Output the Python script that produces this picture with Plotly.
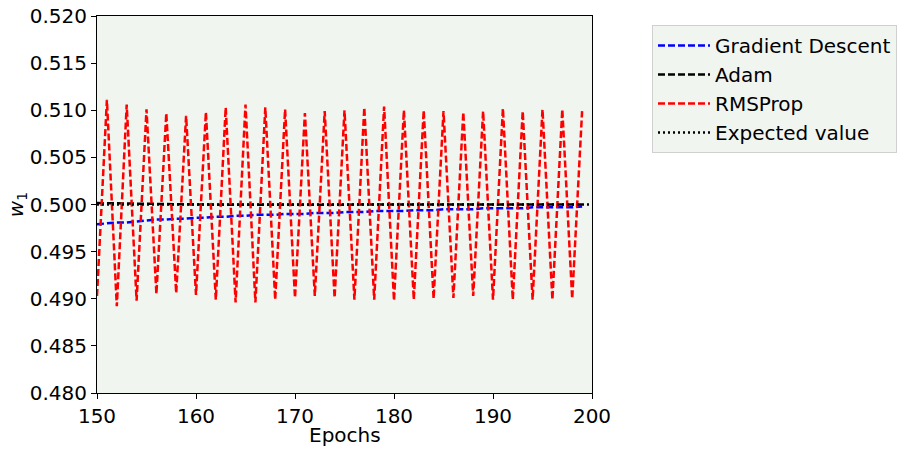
import plotly.graph_objects as go

epochs = list(range(150, 200))

gd = [0.4979, 0.4980, 0.4981, 0.4981, 0.4982, 0.4983, 0.4984, 0.4984, 0.4985, 0.4985,
      0.4986, 0.4986, 0.4987, 0.4987, 0.4988, 0.4988, 0.4989, 0.4989, 0.4989, 0.4990,
      0.4990, 0.4990, 0.4991, 0.4991, 0.4991, 0.4992, 0.4992, 0.4992, 0.4993, 0.4993,
      0.4993, 0.4993, 0.4994, 0.4994, 0.4994, 0.4995, 0.4995, 0.4995, 0.4995, 0.4996,
      0.4996, 0.4996, 0.4996, 0.4996, 0.4997, 0.4997, 0.4997, 0.4997, 0.4997, 0.4998]

adam = [0.50015, 0.50013, 0.50011, 0.50009, 0.50007, 0.50005, 0.50003, 0.50001, 0.50000, 0.49999,
        0.49998, 0.49998, 0.49998, 0.49998, 0.49998, 0.49998, 0.49999, 0.49999, 0.49999, 0.49999,
        0.50000, 0.50000, 0.50000, 0.50000, 0.50000, 0.50000, 0.50000, 0.50000, 0.50000, 0.50000,
        0.50000, 0.50000, 0.50000, 0.50000, 0.50000, 0.50000, 0.50000, 0.50000, 0.50000, 0.50000,
        0.50000, 0.50000, 0.50000, 0.50000, 0.50000, 0.50000, 0.50000, 0.50000, 0.50000, 0.50000]

rmsprop = [0.4903, 0.5111, 0.4892, 0.5106, 0.4898, 0.5101, 0.4905, 0.5097, 0.4906, 0.5094,
           0.4904, 0.5098, 0.4899, 0.5103, 0.4896, 0.5106, 0.4896, 0.5103, 0.4899, 0.5101,
           0.4901, 0.5097, 0.4903, 0.5099, 0.4901, 0.5100, 0.4899, 0.5103, 0.4899, 0.5104,
           0.4898, 0.5100, 0.4899, 0.5100, 0.4900, 0.5099, 0.4901, 0.5098, 0.4903, 0.5099,
           0.4899, 0.5102, 0.4899, 0.5099, 0.4899, 0.5101, 0.4899, 0.5101, 0.4900, 0.5099]

expected_x = [0, 200]
expected_y = [0.5, 0.5]

x_ticks = [150, 160, 170, 180, 190, 200]
y_ticks = [0.480, 0.485, 0.490, 0.495, 0.500, 0.505, 0.510, 0.515, 0.520]

font = "DejaVu Sans"
bg = "#f1f5f0"
fs = 20

fig = go.Figure()
fig.add_trace(go.Scatter(x=epochs, y=gd, mode="lines", name="Gradient Descent",
                         line=dict(color="blue", width=2.5, dash="7px,3px")))
fig.add_trace(go.Scatter(x=epochs, y=adam, mode="lines", name="Adam",
                         line=dict(color="black", width=2.5, dash="7px,3px")))
fig.add_trace(go.Scatter(x=epochs, y=rmsprop, mode="lines", name="RMSProp",
                         line=dict(color="red", width=2.5, dash="7px,3px")))
fig.add_trace(go.Scatter(x=expected_x, y=expected_y, mode="lines", name="Expected value",
                         line=dict(color="black", width=2.5, dash="2px,3px")))

axis_common = dict(showline=True, linecolor="black", linewidth=1, mirror=True,
                   ticks="outside", ticklen=5, tickcolor="black", showgrid=False,
                   zeroline=False, automargin=False,
                   tickfont=dict(family=font, size=fs, color="black"))

fig.update_layout(
    width=907, height=452,
    margin=dict(l=97, r=315, t=16, b=59),
    paper_bgcolor="white", plot_bgcolor=bg,
    font=dict(family=font, size=fs, color="black"),
    xaxis=dict(range=[150, 200], tickvals=x_ticks, ticktext=[str(v) for v in x_ticks],
               **axis_common),
    yaxis=dict(range=[0.480, 0.520], tickvals=y_ticks, ticktext=[f"{v:.3f}" for v in y_ticks],
               title=dict(text="<i>w</i><sub>1</sub>", font=dict(family=font, size=fs), standoff=0),
               **axis_common),
    legend=dict(xref="container", yref="container", x=652 / 907, y=1 - 25 / 452,
                xanchor="left", yanchor="top",
                bgcolor=bg, bordercolor="#d0d0d0", borderwidth=1, itemwidth=52,
                font=dict(family=font, size=fs), tracegroupgap=0),
    showlegend=True,
    annotations=[dict(text="Epochs", xref="paper", yref="paper", x=0.5, y=0,
                      xanchor="center", yanchor="middle", yshift=-42, showarrow=False,
                      font=dict(family=font, size=fs, color="black"))],
)

fig.write_html("out.html")
